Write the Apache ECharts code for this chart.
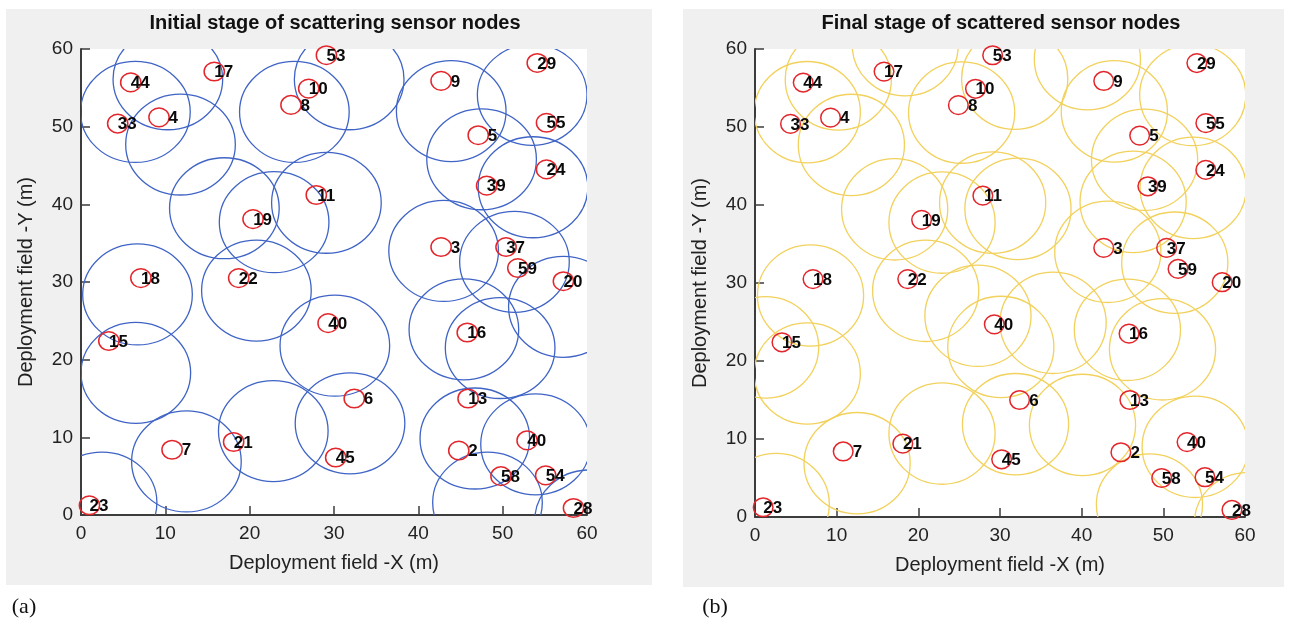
<!DOCTYPE html>
<html>
<head>
<meta charset="utf-8">
<script src="https://cdn.jsdelivr.net/npm/echarts@6/dist/echarts.min.js"></script>
<style>
html,body{margin:0;padding:0;background:#fff;}
#chart{width:1294px;height:624px;}
</style>
</head>
<body>
<div id="chart"></div>
<script>
// ---- data ----
const titleA = 'Initial stage of scattering sensor nodes';
const titleB = 'Final stage of scattered sensor nodes';
const xAxisName = 'Deployment field -X (m)';
const yAxisName = 'Deployment field -Y (m)';
const panelLabels = ['(a)', '(b)'];
const axisMin = 0, axisMax = 60, axisStep = 10;

const nodeIds = ['44','17','33','4','10','8','53','9','29','55','5','24','39','11','19','3','37','59','20','18','22','40','15','16','6','13','7','21','45','2','40','58','54','28','23'];
const nodeX = [5.9,15.8,4.35,9.25,27.0,24.9,29.1,42.7,54.1,55.2,47.1,55.2,48.1,27.9,20.4,42.7,50.4,51.8,57.2,7.1,18.7,29.3,3.3,45.8,32.4,45.9,10.8,18.1,30.2,44.8,52.9,49.8,55.1,58.4,1.0];
const nodeY = [55.7,57.1,50.4,51.2,54.9,52.8,59.2,55.9,58.2,50.5,48.9,44.5,42.4,41.2,38.1,34.5,34.5,31.8,30.1,30.5,30.5,24.7,22.4,23.5,15.0,15.0,8.4,9.4,7.4,8.3,9.6,5.0,5.1,0.9,1.25];
const nodeMarkRadius = 1.2;
const sensingRadius = 6.5;

const initialCircleX = [6.45,10.3,11.8,17.0,22.9,29.1,25.3,31.8,43.9,53.5,47.5,53.6,43.0,51.4,57.2,45.4,49.7,46.7,53.9,48.2,60.3,30.1,31.9,6.7,20.8,6.5,12.5,22.8,2.5];
const initialCircleY = [51.9,56.1,47.7,39.5,37.7,40.2,51.9,56.1,52.0,54.1,45.8,42.2,34.0,32.6,26.8,23.9,21.5,9.85,9.1,1.6,-0.7,21.8,11.8,28.4,28.9,18.3,6.9,10.8,1.6];

const finalCircleX = [6.4,10.2,11.8,18.4,25.3,31.8,40.7,44.0,53.6,47.7,53.65,46.3,43.2,51.4,29.1,32.2,22.9,17.1,6.8,1.3,6.4,20.9,27.3,30.1,36.5,45.6,49.9,12.5,22.9,2.6,31.9,40.1,53.9,48.3,60.3];
const finalCircleY = [51.9,56.1,47.7,60.5,51.85,56.2,58.7,52.0,54.1,45.8,42.2,40.4,34.0,32.6,40.3,39.5,37.75,39.45,28.4,21.75,18.4,29.0,25.8,21.8,24.9,24.0,21.5,6.9,10.7,1.65,11.9,11.8,9.0,1.6,-0.8];

// ---- styles ----
const blueColor = '#3f64c6';
const yellowColor = '#f2d15c';
const redColor = '#e3262b';
const axisColor = '#3c3c3c';
const grids = [
  {left: 81, top: 49, width: 506, height: 466},
  {left: 755, top: 49, width: 490, height: 468}
];

function zip(xs, ys) { return xs.map((x, i) => [x, ys[i]]); }

function ringSeries(gridIdx, data, color, width) {
  return {
    type: 'custom', xAxisIndex: gridIdx, yAxisIndex: gridIdx, clip: true, silent: true,
    data: data,
    renderItem: function (params, api) {
      const c = api.coord([api.value(0), api.value(1)]);
      const s = api.size([sensingRadius, sensingRadius]);
      return {type: 'ellipse', shape: {cx: c[0], cy: c[1], rx: s[0], ry: s[1]},
        style: {fill: 'none', stroke: color, lineWidth: width}};
    }
  };
}

function nodeSeries(gridIdx) {
  const data = nodeIds.map((id, i) => [nodeX[i], nodeY[i], id]);
  return {
    type: 'custom', xAxisIndex: gridIdx, yAxisIndex: gridIdx, clip: false, silent: true, z: 5,
    data: data,
    renderItem: function (params, api) {
      const c = api.coord([api.value(0), api.value(1)]);
      const s = api.size([nodeMarkRadius, nodeMarkRadius]);
      return {type: 'group', children: [
        {type: 'ellipse', shape: {cx: c[0], cy: c[1], rx: s[0], ry: s[1]},
          style: {fill: 'none', stroke: redColor, lineWidth: 1.5}},
        {type: 'text', x: c[0] + 19, y: c[1] + 1,
          style: {text: String(api.value(2)), align: 'right', verticalAlign: 'middle',
            fill: '#0a0a0a', font: 'bold 17px "Liberation Sans", Arial, sans-serif'}}
      ]};
    }
  };
}

function makeX(gridIdx) {
  return {
    type: 'value', gridIndex: gridIdx, min: axisMin, max: axisMax, interval: axisStep,
    name: xAxisName, nameLocation: 'middle', nameGap: 38,
    nameTextStyle: {fontSize: 20, color: '#222', fontFamily: 'Liberation Sans'},
    axisLine: {show: true, onZero: false, lineStyle: {color: axisColor, width: 2}},
    axisTick: {show: true, inside: true, length: 9, lineStyle: {color: axisColor, width: 1.5}},
    axisLabel: {fontSize: 19, color: '#222', margin: 9, fontFamily: 'Liberation Sans'},
    splitLine: {show: false}
  };
}
function makeY(gridIdx) {
  return {
    type: 'value', gridIndex: gridIdx, min: axisMin, max: axisMax, interval: axisStep,
    name: yAxisName, nameLocation: 'middle', nameGap: 45,
    nameTextStyle: {fontSize: 20, color: '#222', fontFamily: 'Liberation Sans'},
    axisLine: {show: true, onZero: false, lineStyle: {color: axisColor, width: 2}},
    axisTick: {show: true, inside: true, length: 9, lineStyle: {color: axisColor, width: 1.5}},
    axisLabel: {fontSize: 19, color: '#222', margin: 8, fontFamily: 'Liberation Sans'},
    splitLine: {show: false}
  };
}

const chart = echarts.init(document.getElementById('chart'), null, {renderer: 'canvas'});
chart.setOption({
  backgroundColor: '#ffffff',
  animation: false,
  graphic: [
    {type: 'rect', z: -10, shape: {x: 6, y: 9, width: 646, height: 576}, style: {fill: '#f0f0f0'}},
    {type: 'rect', z: -10, shape: {x: 683, y: 9, width: 601, height: 578}, style: {fill: '#f0f0f0'}},
    {type: 'text', x: 335, y: 23, style: {text: titleA, align: 'center', verticalAlign: 'middle', fill: '#111', font: 'bold 20px "Liberation Sans", Arial, sans-serif'}},
    {type: 'text', x: 1001, y: 23, style: {text: titleB, align: 'center', verticalAlign: 'middle', fill: '#111', font: 'bold 20px "Liberation Sans", Arial, sans-serif'}},
    {type: 'text', x: 24, y: 607, style: {text: panelLabels[0], align: 'center', verticalAlign: 'middle', fill: '#111', font: '22px "Liberation Serif", serif'}},
    {type: 'text', x: 715, y: 607, style: {text: panelLabels[1], align: 'center', verticalAlign: 'middle', fill: '#111', font: '22px "Liberation Serif", serif'}}
  ],
  grid: grids.map(g => Object.assign({show: true, backgroundColor: '#ffffff', borderWidth: 0, containLabel: false}, g)),
  xAxis: [makeX(0), makeX(1)],
  yAxis: [makeY(0), makeY(1)],
  series: [
    ringSeries(0, zip(initialCircleX, initialCircleY), blueColor, 1.3),
    nodeSeries(0),
    ringSeries(1, zip(finalCircleX, finalCircleY), yellowColor, 1.3),
    nodeSeries(1)
  ]
});
</script>
</body>
</html>
